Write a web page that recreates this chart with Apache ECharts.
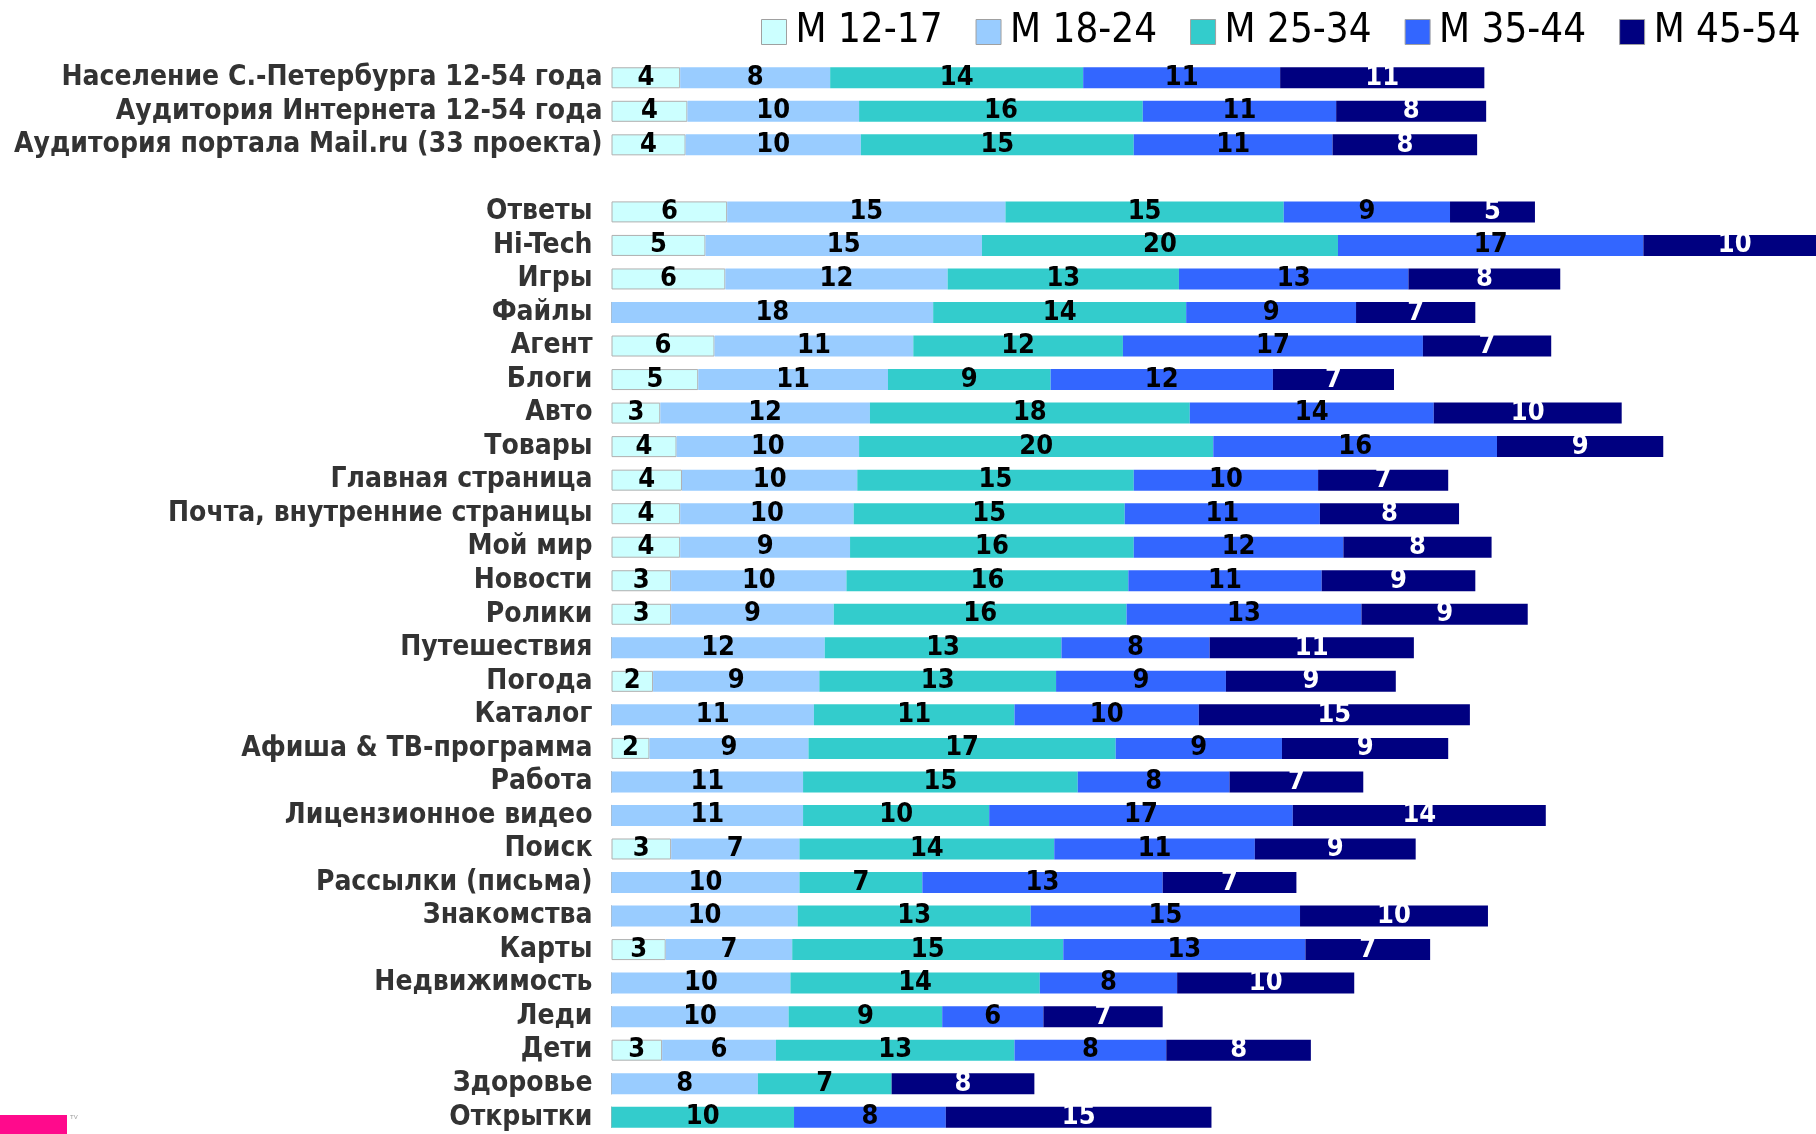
<!DOCTYPE html>
<html>
<head>
<meta charset="utf-8">
<script src="https://cdn.jsdelivr.net/npm/echarts@6/dist/echarts.min.js"></script>
<style>
html,body{margin:0;padding:0;background:#fff;}
#chart{width:1816px;height:1134px;}
</style>
</head>
<body>
<div id="chart"></div>
<script>
const categories = ['Население С.-Петербурга 12-54 года','Аудитория Интернета 12-54 года','Аудитория портала Mail.ru (33 проекта)','',
  'Ответы','Hi-Tech','Игры','Файлы','Агент','Блоги','Авто','Товары','Главная страница','Почта, внутренние страницы','Мой мир','Новости','Ролики','Путешествия','Погода','Каталог','Афиша & ТВ-программа','Работа','Лицензионное видео','Поиск','Рассылки (письма)','Знакомства','Карты','Недвижимость','Леди','Дети','Здоровье','Открытки'];

const seriesNames = ['M 12-17','M 18-24','M 25-34','M 35-44','M 45-54'];

const m12_17 = [3.8,4.2,4.1,null, 6.4,5.2,6.3,0,5.7,4.8,2.7,3.6,3.9,3.8,3.8,3.3,3.3,0,2.3,0,2.1,0,0,3.3,0,0,3.0,0,0,2.8,0,0];
const m18_24 = [8.3,9.5,9.7,null, 15.4,15.3,12.3,17.8,11.0,10.5,11.6,10.1,9.7,9.6,9.4,9.7,9.0,11.8,9.2,11.2,8.8,10.6,10.6,7.1,10.4,10.3,7.0,9.9,9.8,6.3,8.1,0];
const m25_34 = [14.0,15.7,15.1,null, 15.4,19.7,12.8,14.0,11.6,9.0,17.7,19.6,15.3,15.0,15.7,15.6,16.2,13.1,13.1,11.1,17.0,15.2,10.3,14.1,6.8,12.9,15.0,13.8,8.5,13.2,7.4,10.1];
const m35_44 = [10.9,10.7,11.0,null, 9.2,16.9,12.7,9.4,16.6,12.3,13.5,15.7,10.2,10.8,11.6,10.7,13.0,8.2,9.4,10.2,9.2,8.4,16.8,11.1,13.3,14.9,13.4,7.6,5.6,8.4,0,8.4];
const m45_54 = [11.3,8.3,8.0,null, 4.7,10.1,8.4,6.6,7.1,6.7,10.4,9.2,7.2,7.7,8.2,8.5,9.2,11.3,9.4,15.0,9.2,7.4,14.0,8.9,7.4,10.4,6.9,9.8,6.6,8.0,7.9,14.7];

const values = [m12_17, m18_24, m25_34, m35_44, m45_54];
const colors = ['#ccffff','#99ccff','#33cccc','#3366ff','#000080'];
const labelColors = ['#000','#000','#000','#000','#fff'];

const NARROW = "'DejaVu Sans Condensed','Liberation Sans Narrow',sans-serif";

const chart = echarts.init(document.getElementById('chart'), null, {renderer:'canvas'});

const series = seriesNames.map((name, i) => ({
  name: name,
  type: 'bar',
  stack: 'total',
  barWidth: 21,
  data: values[i],
  itemStyle: i === 0 ? {color: colors[i], borderColor: '#b0b0b0', borderWidth: 1} : {color: colors[i]},
  label: {
    show: true,
    position: 'inside',
    color: labelColors[i],
    fontFamily: NARROW,
    fontWeight: 'bold',
    fontSize: 27,
    formatter: p => (p.value ? String(Math.round(p.value)) : '')
  },
  emphasis: {disabled: true},
  animation: false
}));

const catStyle = {fontFamily: NARROW, fontWeight: 'bold', fontSize: 28, color: '#333'};

chart.setOption({
  animation: false,
  backgroundColor: '#fff',
  legend: {
    data: seriesNames,
    left: 761,
    top: 12,
    width: 1100,
    padding: 0,
    itemWidth: 25,
    itemHeight: 25,
    itemGap: 33,
    icon: 'rect',
    itemStyle: {borderColor: '#a0a0a0', borderWidth: 1},
    textStyle: {fontFamily: NARROW, fontSize: 40, color: '#000', padding: [0,0,0,4]}
  },
  grid: {left: 611.5, top: 61, width: 1265, bottom: 0, containLabel: false, outerBoundsMode: 'none'},
  xAxis: {type: 'value', min: 0, max: 70, show: false},
  yAxis: {
    type: 'category',
    data: categories,
    inverse: true,
    axisLine: {show: false},
    axisTick: {show: false},
    splitLine: {show: false},
    axisLabel: {
      margin: 9,
      interval: 0,
      formatter: (v, idx) => (idx < 3 ? '{a|' + v + '}' : '{b|' + v + '}'),
      rich: {
        a: Object.assign({}, catStyle),
        b: Object.assign({padding: [0, 10, 0, 0]}, catStyle)
      }
    }
  },
  graphic: [
    {type: 'rect', left: 0, top: 1115, shape: {width: 67, height: 19}, style: {fill: '#ff0a8c'}},
    {type: 'text', left: 70, top: 1114, style: {text: 'TV', fontSize: 6, fill: '#999'}}
  ],
  series: series
});
</script>
</body>
</html>
